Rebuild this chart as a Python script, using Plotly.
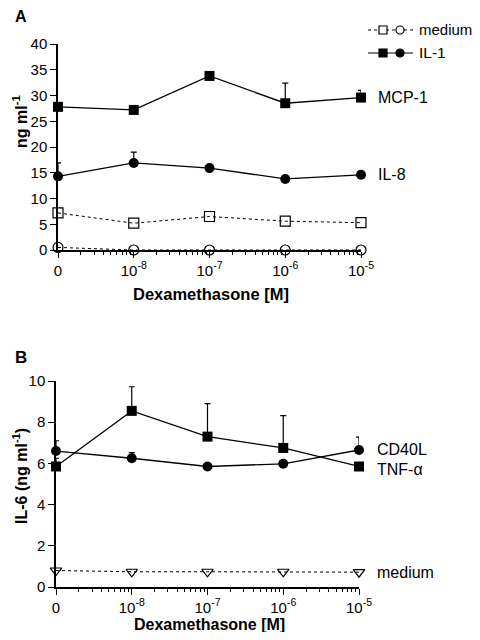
import plotly.graph_objects as go

# ---- data ----
dose_pos = [1e-9, 1e-8, 1e-7, 1e-6, 1e-5]          # "0" plotted one decade below 1e-8
dose_labels = ["0", "10<sup>-8</sup>", "10<sup>-7</sup>", "10<sup>-6</sup>", "10<sup>-5</sup>"]

# Panel A (ng/ml)
mcp1_il1 = [27.8, 27.2, 33.8, 28.5, 29.6]
mcp1_il1_err = [0, 0, 0, 3.9, 1.4]
il8_il1 = [14.3, 16.9, 15.9, 13.8, 14.6]
il8_il1_err = [2.6, 2.1, 0, 0, 0]
mcp1_med = [7.2, 5.2, 6.5, 5.6, 5.3]
il8_med = [0.5, 0.0, 0.0, 0.0, 0.0]

# Panel B (IL-6 ng/ml)
tnf = [5.85, 8.55, 7.3, 6.75, 5.85]
tnf_err = [0.4, 1.17, 1.6, 1.57, 0]
cd40l = [6.6, 6.25, 5.85, 5.98, 6.65]
cd40l_err = [0.5, 0.27, 0, 0, 0.63]
il6_med = [0.8, 0.74, 0.74, 0.74, 0.72]

FONT = "Liberation Sans, Arial, sans-serif"
OFF = 8                       # page body margin
W, H = 480 - OFF, 640 - 2 * OFF

def px(x):
    return (x - OFF) / W

def py(y):
    return 1 - (y - OFF) / H

fig = go.Figure()

def err(vals):
    return dict(type="data", array=vals, arrayminus=[0] * len(vals), symmetric=False,
                color="black", thickness=1.2, width=3)

# Panel A traces
fig.add_trace(go.Scatter(x=dose_pos, y=mcp1_med, mode="lines+markers", xaxis="x", yaxis="y",
                         line=dict(color="black", width=1, dash="dot"),
                         marker=dict(symbol="square-open", size=10, color="black", line=dict(width=1.2)),
                         cliponaxis=False, showlegend=False))
fig.add_trace(go.Scatter(x=dose_pos, y=il8_med, mode="lines+markers", xaxis="x", yaxis="y",
                         line=dict(color="black", width=1, dash="dot"),
                         marker=dict(symbol="circle-open", size=10, color="black", line=dict(width=1.2)),
                         cliponaxis=False, showlegend=False))
fig.add_trace(go.Scatter(x=dose_pos, y=mcp1_il1, mode="lines+markers", xaxis="x", yaxis="y",
                         line=dict(color="black", width=1.3),
                         marker=dict(symbol="square", size=10, color="black"),
                         error_y=err(mcp1_il1_err), cliponaxis=False, showlegend=False))
fig.add_trace(go.Scatter(x=dose_pos, y=il8_il1, mode="lines+markers", xaxis="x", yaxis="y",
                         line=dict(color="black", width=1.3),
                         marker=dict(symbol="circle", size=10, color="black"),
                         error_y=err(il8_il1_err), cliponaxis=False, showlegend=False))

# Panel B traces
fig.add_trace(go.Scatter(x=dose_pos, y=il6_med, mode="lines+markers", xaxis="x2", yaxis="y2",
                         line=dict(color="black", width=1, dash="dot"),
                         marker=dict(symbol="triangle-down-open", size=10, color="black", line=dict(width=1.2)),
                         cliponaxis=False, showlegend=False))
fig.add_trace(go.Scatter(x=dose_pos, y=tnf, mode="lines+markers", xaxis="x2", yaxis="y2",
                         line=dict(color="black", width=1.3),
                         marker=dict(symbol="square", size=10, color="black"),
                         error_y=err(tnf_err), cliponaxis=False, showlegend=False))
fig.add_trace(go.Scatter(x=dose_pos, y=cd40l, mode="lines+markers", xaxis="x2", yaxis="y2",
                         line=dict(color="black", width=1.3),
                         marker=dict(symbol="circle", size=10, color="black"),
                         error_y=err(cd40l_err), cliponaxis=False, showlegend=False))

minor_vals = [k * 10 ** e for e in range(-9, -5) for k in range(2, 10)]

def xaxis_cfg(domain, anchor):
    return dict(type="log", domain=domain, anchor=anchor, range=[-9, -5],
                tickmode="array", tickvals=dose_pos, ticktext=dose_labels,
                ticks="outside", ticklen=6, tickwidth=1.3, tickcolor="black",
                showline=True, linecolor="black", linewidth=1.5,
                showgrid=False, zeroline=False, automargin=False,
                minor=dict(tickmode="array", tickvals=minor_vals, ticks="outside",
                           ticklen=3.5, tickwidth=1.1, tickcolor="black", showgrid=False),
                tickfont=dict(family=FONT, size=15, color="black"))

def yaxis_cfg(domain, anchor, rng, dtick):
    return dict(domain=domain, anchor=anchor, range=rng, dtick=dtick, tick0=0,
                ticks="outside", ticklen=6, tickwidth=1.3, tickcolor="black",
                showline=True, linecolor="black", linewidth=1.5,
                showgrid=False, zeroline=False, automargin=False,
                tickfont=dict(family=FONT, size=15, color="black"))

fig.update_layout(
    width=W, height=H, plot_bgcolor="white", paper_bgcolor="white",
    margin=dict(l=0, r=0, t=0, b=0),
    xaxis=xaxis_cfg([px(58), px(361)], "y"),
    yaxis=yaxis_cfg([py(250), py(44)], "x", [0, 40], 5),
    xaxis2=xaxis_cfg([px(56), px(359)], "y2"),
    yaxis2=yaxis_cfg([py(587), py(381)], "x2", [0, 10], 2),
)

ann = []
def text(x, y, s, size=14, bold=False, angle=0, xanchor="left"):
    ann.append(dict(x=px(x), y=py(y), xref="paper", yref="paper", text=(f"<b>{s}</b>" if bold else s),
                    showarrow=False, xanchor=xanchor, yanchor="middle", textangle=angle,
                    font=dict(family=FONT, size=size, color="black")))

text(13, 17, "A", size=16, bold=True)
text(13, 357, "B", size=17, bold=True)
text(20, 122, "ng ml<sup>-1</sup>", size=16, bold=True, angle=-90, xanchor="center")
text(20, 476, "IL-6 (ng ml<sup>-1</sup>)", size=16, bold=True, angle=-90, xanchor="center")
text(211, 294, "Dexamethasone [M]", size=16.5, bold=True, xanchor="center")
text(209, 624, "Dexamethasone [M]", size=16, bold=True, xanchor="center")
text(376, 98, "MCP-1", size=16)
text(376, 175, "IL-8", size=16)
text(375, 449, "CD40L", size=16)
text(375, 469, "TNF-α", size=16)
text(375, 572, "medium", size=16)
text(417, 30, "medium", size=15)
text(417, 53, "IL-1", size=15.5)

shapes = []
def line(x0, x1, y, dash):
    shapes.append(dict(type="line", xref="paper", yref="paper", x0=px(x0), x1=px(x1), y0=py(y), y1=py(y),
                       line=dict(color="black", width=1.2 if dash == "solid" else 1, dash=dash)))
def rect(cx, cy, s, filled):
    shapes.append(dict(type="rect", xref="paper", yref="paper", x0=px(cx - s / 2), x1=px(cx + s / 2),
                       y0=py(cy + s / 2), y1=py(cy - s / 2), line=dict(color="black", width=1.2),
                       fillcolor="black" if filled else "white"))
def circ(cx, cy, s, filled):
    shapes.append(dict(type="circle", xref="paper", yref="paper", x0=px(cx - s / 2), x1=px(cx + s / 2),
                       y0=py(cy + s / 2), y1=py(cy - s / 2), line=dict(color="black", width=1.2),
                       fillcolor="black" if filled else "white"))

line(368, 413, 30, "dot")
rect(383, 30, 8, False)
circ(400, 30, 8, False)
line(368, 413, 53, "solid")
rect(383, 53, 8, True)
circ(400, 53, 8, True)

fig.update_layout(annotations=ann, shapes=shapes)
fig.write_html("out.html")
